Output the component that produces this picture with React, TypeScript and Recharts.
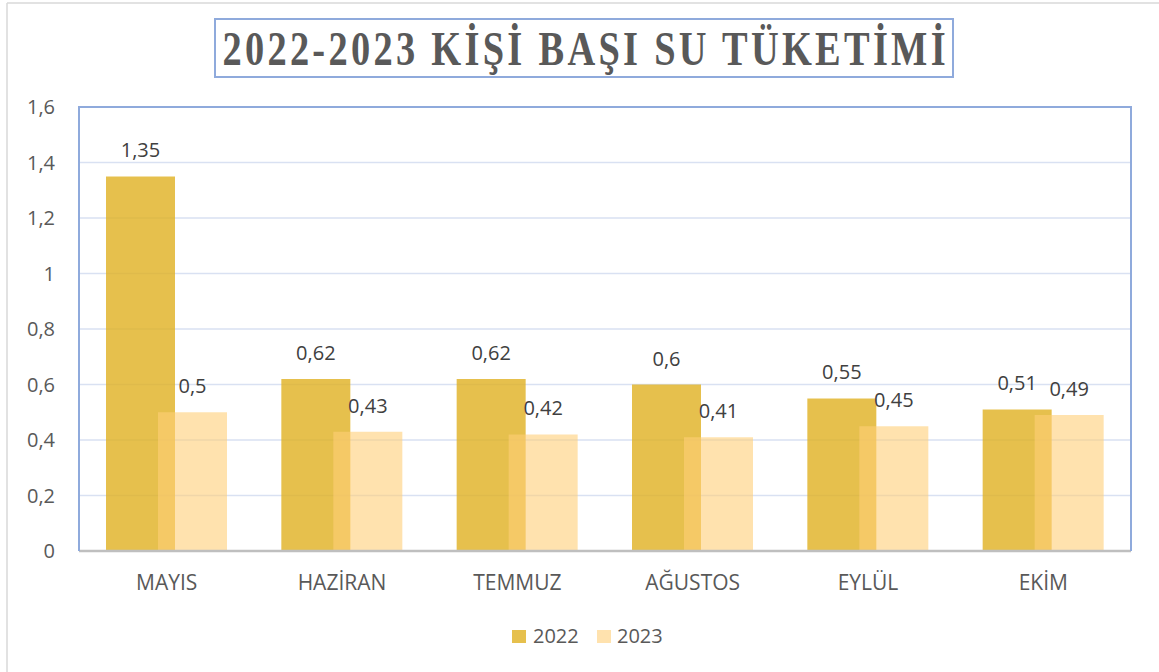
import { BarChart, Bar, XAxis, YAxis, CartesianGrid, LabelList } from 'recharts';

const months = ['MAYIS', 'HAZİRAN', 'TEMMUZ', 'AĞUSTOS', 'EYLÜL', 'EKİM'];
const values2022 = [1.35, 0.62, 0.62, 0.6, 0.55, 0.51];
const values2023 = [0.5, 0.43, 0.42, 0.41, 0.45, 0.49];
const yTicks = [0, 0.2, 0.4, 0.6, 0.8, 1, 1.2, 1.4, 1.6];
const seriesNames = ['2022', '2023'];
const title = '2022-2023 KİŞİ BAŞI SU TÜKETİMİ';

const data = months.map((m, i) => ({ month: m, y2022: values2022[i], y2023: values2023[i] }));

const trFormat = (v: number) => String(v).replace('.', ',');

const font = '"Open Sans", sans-serif';

export default function App() {
  return (
    <div style={{ position: 'absolute', left: 0, top: 0, width: 1159, height: 672, background: '#fff', fontFamily: font }}>
      <BarChart
        width={1159}
        height={672}
        data={data}
        margin={{ top: 107, right: 28, bottom: 91, left: 0 }}
        barSize={69}
        barGap={-17}
      >
        <CartesianGrid vertical={false} stroke="#D9E1F2" strokeWidth={1.5} />
        <XAxis
          dataKey="month"
          height={30}
          tickSize={0}
          tickMargin={24}
          axisLine={{ stroke: '#BFBFBF', strokeWidth: 2.5 }}
          tick={{ fill: '#595959', fontSize: 21, fontFamily: font }}
        />
        <YAxis
          width={79}
          domain={[0, 1.6]}
          ticks={yTicks}
          tickFormatter={trFormat}
          axisLine={false}
          tickLine={false}
          tickSize={0}
          tickMargin={24}
          tick={{ fill: '#595959', fontSize: 20, fontFamily: font }}
        />
        <Bar dataKey="y2022" name={seriesNames[0]} fill="#E0B020" fillOpacity={0.8} isAnimationActive={false}>
          <LabelList dataKey="y2022" position="top" offset={19} formatter={trFormat} fill="#404040" fontSize={20} fontFamily={font} />
        </Bar>
        <Bar dataKey="y2023" name={seriesNames[1]} fill="#FFCE78" fillOpacity={0.6} isAnimationActive={false}>
          <LabelList dataKey="y2023" position="top" offset={19} formatter={trFormat} fill="#404040" fontSize={20} fontFamily={font} />
        </Bar>
      </BarChart>
      <svg width={1159} height={672} style={{ position: 'absolute', left: 0, top: 0, pointerEvents: 'none' }}>
        {/* outer frame */}
        <line x1={7} y1={3} x2={1159} y2={3} stroke="#D9D9D9" strokeWidth={1.5} />
        <line x1={7} y1={3} x2={7} y2={672} stroke="#D9D9D9" strokeWidth={1.5} />
        {/* plot border */}
        <polyline points="79,551 79,107 1131,107 1131,551" fill="none" stroke="#8FAADC" strokeWidth={2} />
        {/* title */}
        <rect x={215} y={19} width={738} height={58} fill="none" stroke="#8FAADC" strokeWidth={2} />
        <g transform="translate(584,65) scale(0.8,1)">
          <text
            x={0}
            y={0}
            textAnchor="middle"
            textLength={904}
            lengthAdjust="spacing"
            fill="#595959"
            fontSize={48}
            fontWeight="bold"
            fontFamily='"Liberation Serif", serif'
          >
            {title}
          </text>
        </g>
        {/* legend */}
        <rect x={512} y={630} width={14} height={13} fill="#E0B020" fillOpacity={0.8} />
        <text x={533} y={643} fill="#595959" fontSize={20} fontFamily={font}>{seriesNames[0]}</text>
        <rect x={597} y={630} width={14} height={13} fill="#FFCE78" fillOpacity={0.6} />
        <text x={617} y={643} fill="#595959" fontSize={20} fontFamily={font}>{seriesNames[1]}</text>
      </svg>
    </div>
  );
}
